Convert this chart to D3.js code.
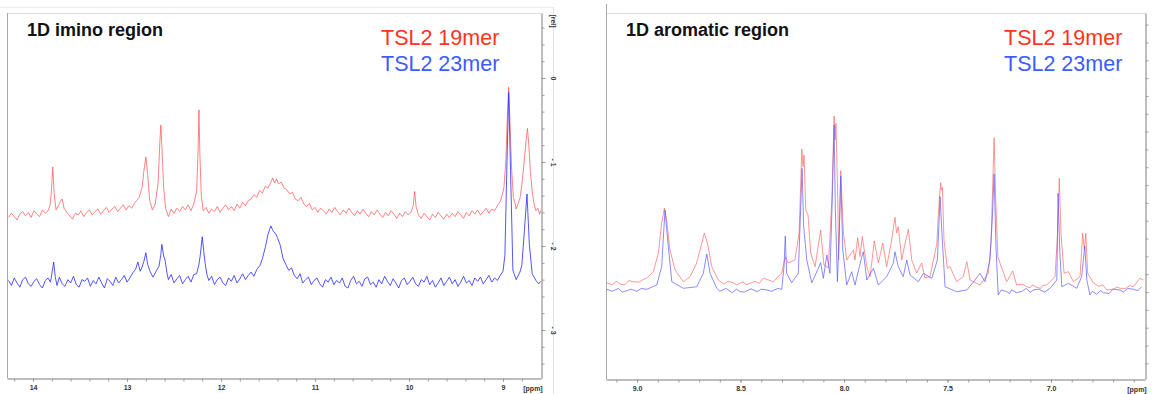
<!DOCTYPE html>
<html>
<head>
<meta charset="utf-8">
<script src="https://cdn.jsdelivr.net/npm/d3@7"></script>
<style>
  body { margin: 0; background: #fff; }
  svg { display: block; font-family: "Liberation Sans", Arial, sans-serif; }
</style>
</head>
<body>
<div id="chart"></div>
<script>
// panel titles and legend
var panelTitles = ["1D imino region", "1D aromatic region"];
var legendNames = ["TSL2 19mer", "TSL2 23mer"];

// imino region: [ppm, rel] pairs
var iminoPpm = [14.277, 8.596];
var iminoRel = [0.774, -3.571];
var iminoXTicks = [14, 13, 12, 11, 10, 9];
var iminoYTicks = [0, -1, -2, -3];

var imino19 = [
  [14.26,-1.66],[14.23,-1.61],[14.20,-1.65],[14.17,-1.69],[14.14,-1.62],[14.11,-1.59],[14.08,-1.64],
  [14.05,-1.60],[14.02,-1.66],[13.99,-1.58],[13.96,-1.62],[13.93,-1.65],[13.90,-1.57],[13.87,-1.61],
  [13.84,-1.58],[13.82,-1.52],[13.805,-1.35],[13.79,-1.06],[13.775,-1.38],[13.755,-1.57],[13.73,-1.52],
  [13.71,-1.47],[13.69,-1.44],[13.67,-1.55],[13.64,-1.60],[13.61,-1.64],[13.58,-1.68],[13.55,-1.61],
  [13.52,-1.63],[13.49,-1.58],[13.46,-1.65],[13.43,-1.60],[13.40,-1.57],[13.37,-1.63],[13.34,-1.59],
  [13.31,-1.56],[13.28,-1.62],[13.25,-1.58],[13.22,-1.54],[13.19,-1.60],[13.16,-1.56],[13.13,-1.53],
  [13.10,-1.59],[13.07,-1.55],[13.04,-1.51],[13.01,-1.57],[12.98,-1.52],[12.95,-1.55],[12.92,-1.49],
  [12.90,-1.46],[12.87,-1.42],[12.84,-1.30],[12.82,-1.10],[12.80,-0.94],[12.78,-1.15],[12.76,-1.45],
  [12.73,-1.57],[12.70,-1.50],[12.67,-1.25],[12.65,-0.75],[12.64,-0.56],[12.63,-0.80],[12.61,-1.30],
  [12.59,-1.55],[12.56,-1.65],[12.53,-1.56],[12.50,-1.61],[12.47,-1.55],[12.44,-1.59],[12.41,-1.53],
  [12.38,-1.57],[12.35,-1.51],[12.32,-1.58],[12.29,-1.50],[12.26,-1.35],[12.245,-0.90],[12.235,-0.38],
  [12.225,-0.90],[12.21,-1.40],[12.19,-1.58],[12.16,-1.54],[12.13,-1.61],[12.10,-1.56],[12.07,-1.59],
  [12.04,-1.53],[12.01,-1.60],[11.98,-1.55],[11.95,-1.51],[11.92,-1.57],[11.89,-1.53],[11.86,-1.58],
  [11.83,-1.50],[11.80,-1.55],[11.77,-1.48],[11.74,-1.52],[11.71,-1.46],[11.68,-1.44],[11.65,-1.39],
  [11.62,-1.42],[11.59,-1.34],[11.56,-1.37],[11.53,-1.29],[11.50,-1.31],[11.47,-1.24],[11.45,-1.19],
  [11.43,-1.25],[11.41,-1.20],[11.39,-1.26],[11.36,-1.24],[11.33,-1.31],[11.30,-1.33],[11.27,-1.38],
  [11.24,-1.36],[11.21,-1.44],[11.18,-1.46],[11.15,-1.42],[11.12,-1.50],[11.09,-1.53],[11.06,-1.49],
  [11.03,-1.57],[11.00,-1.54],[10.97,-1.60],[10.94,-1.55],[10.91,-1.58],[10.88,-1.62],[10.85,-1.56],
  [10.82,-1.60],[10.79,-1.54],[10.76,-1.59],[10.73,-1.63],[10.70,-1.57],[10.67,-1.61],[10.64,-1.55],
  [10.61,-1.60],[10.58,-1.64],[10.55,-1.58],[10.52,-1.62],[10.49,-1.56],[10.46,-1.61],[10.43,-1.65],
  [10.40,-1.59],[10.37,-1.63],[10.34,-1.57],[10.31,-1.62],[10.28,-1.66],[10.25,-1.60],[10.22,-1.64],
  [10.19,-1.58],[10.16,-1.62],[10.13,-1.67],[10.10,-1.61],[10.07,-1.65],[10.04,-1.59],[10.01,-1.63],
  [9.98,-1.60],[9.955,-1.52],[9.94,-1.35],[9.925,-1.53],[9.90,-1.63],[9.87,-1.67],[9.84,-1.61],
  [9.81,-1.65],[9.78,-1.69],[9.75,-1.62],[9.72,-1.66],[9.69,-1.60],[9.66,-1.64],[9.63,-1.68],
  [9.60,-1.62],[9.57,-1.66],[9.54,-1.61],[9.51,-1.65],[9.48,-1.59],[9.45,-1.63],[9.42,-1.67],
  [9.39,-1.60],[9.36,-1.64],[9.33,-1.58],[9.30,-1.62],[9.27,-1.57],[9.24,-1.63],[9.21,-1.59],
  [9.18,-1.55],[9.15,-1.61],[9.12,-1.56],[9.09,-1.58],[9.06,-1.52],[9.03,-1.47],[9.01,-1.40],
  [8.99,-1.30],[8.97,-0.98],[8.955,-0.50],[8.94,-0.11],[8.925,-0.55],[8.91,-1.05],[8.89,-1.42],
  [8.87,-1.50],[8.86,-1.56],[8.84,-1.50],[8.82,-1.43],[8.80,-1.28],[8.78,-1.05],[8.755,-0.75],
  [8.74,-0.60],[8.725,-0.80],[8.71,-1.10],[8.69,-1.35],[8.67,-1.50],[8.65,-1.58],[8.63,-1.55],
  [8.61,-1.62],[8.60,-1.58]
];

var imino23 = [
  [14.26,-2.41],[14.23,-2.47],[14.20,-2.38],[14.17,-2.44],[14.14,-2.49],[14.11,-2.40],[14.08,-2.37],
  [14.05,-2.45],[14.02,-2.48],[13.99,-2.42],[13.96,-2.39],[13.93,-2.46],[13.90,-2.50],[13.87,-2.41],
  [13.84,-2.38],[13.815,-2.43],[13.795,-2.30],[13.78,-2.19],[13.765,-2.36],[13.745,-2.47],[13.72,-2.37],
  [13.69,-2.45],[13.66,-2.48],[13.63,-2.40],[13.60,-2.44],[13.57,-2.36],[13.54,-2.46],[13.51,-2.49],
  [13.48,-2.40],[13.45,-2.42],[13.42,-2.38],[13.39,-2.48],[13.36,-2.41],[13.33,-2.45],[13.30,-2.37],
  [13.27,-2.44],[13.24,-2.50],[13.21,-2.39],[13.18,-2.42],[13.15,-2.47],[13.12,-2.37],[13.09,-2.44],
  [13.06,-2.40],[13.03,-2.35],[13.00,-2.43],[12.97,-2.38],[12.94,-2.32],[12.91,-2.28],[12.885,-2.19],
  [12.86,-2.30],[12.84,-2.25],[12.82,-2.18],[12.80,-2.08],[12.78,-2.22],[12.756,-2.30],[12.724,-2.37],
  [12.69,-2.30],[12.66,-2.24],[12.64,-2.10],[12.63,-1.98],[12.61,-2.12],[12.595,-2.17],[12.575,-2.32],
  [12.56,-2.40],[12.53,-2.34],[12.50,-2.44],[12.47,-2.39],[12.44,-2.35],[12.41,-2.45],[12.38,-2.40],
  [12.35,-2.36],[12.32,-2.43],[12.29,-2.34],[12.26,-2.33],[12.235,-2.22],[12.22,-2.10],[12.20,-1.89],
  [12.185,-2.05],[12.17,-2.20],[12.15,-2.34],[12.13,-2.41],[12.10,-2.36],[12.07,-2.46],[12.04,-2.40],
  [12.01,-2.37],[11.98,-2.44],[11.95,-2.47],[11.92,-2.38],[11.89,-2.42],[11.86,-2.35],[11.83,-2.44],
  [11.80,-2.39],[11.77,-2.33],[11.74,-2.40],[11.71,-2.35],[11.68,-2.31],[11.65,-2.36],[11.62,-2.28],
  [11.585,-2.23],[11.56,-2.15],[11.53,-2.02],[11.50,-1.86],[11.47,-1.76],[11.455,-1.80],[11.44,-1.83],
  [11.42,-1.85],[11.40,-1.90],[11.37,-1.99],[11.34,-2.15],[11.31,-2.22],[11.28,-2.29],[11.25,-2.26],
  [11.22,-2.35],[11.19,-2.39],[11.16,-2.33],[11.13,-2.44],[11.10,-2.40],[11.07,-2.37],[11.04,-2.46],
  [11.01,-2.41],[10.98,-2.38],[10.95,-2.45],[10.92,-2.49],[10.89,-2.40],[10.86,-2.43],[10.83,-2.37],
  [10.80,-2.46],[10.77,-2.41],[10.74,-2.44],[10.71,-2.38],[10.68,-2.48],[10.65,-2.50],[10.62,-2.41],
  [10.59,-2.36],[10.56,-2.45],[10.53,-2.42],[10.50,-2.48],[10.47,-2.39],[10.44,-2.37],[10.41,-2.46],
  [10.38,-2.43],[10.35,-2.49],[10.32,-2.40],[10.29,-2.45],[10.26,-2.36],[10.23,-2.42],[10.20,-2.47],
  [10.17,-2.39],[10.14,-2.44],[10.11,-2.50],[10.08,-2.41],[10.05,-2.38],[10.02,-2.46],[9.99,-2.42],
  [9.96,-2.37],[9.93,-2.45],[9.90,-2.48],[9.87,-2.40],[9.84,-2.43],[9.81,-2.36],[9.78,-2.46],
  [9.75,-2.41],[9.72,-2.49],[9.69,-2.44],[9.66,-2.38],[9.63,-2.47],[9.60,-2.42],[9.57,-2.37],
  [9.54,-2.45],[9.51,-2.40],[9.48,-2.48],[9.45,-2.43],[9.42,-2.36],[9.39,-2.44],[9.36,-2.41],
  [9.33,-2.47],[9.30,-2.38],[9.27,-2.42],[9.24,-2.37],[9.21,-2.45],[9.18,-2.40],[9.15,-2.35],
  [9.12,-2.43],[9.09,-2.38],[9.06,-2.41],[9.03,-2.35],[9.00,-2.30],[8.98,-2.11],[8.96,-1.10],
  [8.94,-0.17],[8.92,-1.10],[8.895,-2.29],[8.86,-2.40],[8.82,-2.31],[8.80,-2.23],[8.78,-1.93],
  [8.745,-1.38],[8.72,-1.98],[8.69,-2.33],[8.65,-2.41],[8.62,-2.45],[8.60,-2.42]
];

// aromatic region
var aromPpm = [9.15, 6.546];
var aromRel = [3.913, -1.22];
var aromXTicks = [9.0, 8.5, 8.0, 7.5, 7.0];

var arom19 = [
  [9.146,0.130],[9.12,0.100],[9.10,0.150],[9.082,0.112],[9.06,0.098],[9.04,0.160],[9.018,0.144],
  [8.99,0.140],[8.97,0.175],[8.953,0.196],[8.921,0.285],[8.897,0.547],[8.881,0.968],[8.868,1.178],
  [8.857,1.010],[8.841,0.589],[8.816,0.309],[8.776,0.144],[8.744,0.215],[8.712,0.407],[8.687,0.687],
  [8.675,0.827],[8.660,0.687],[8.639,0.355],[8.607,0.168],[8.58,0.110],[8.56,0.150],[8.535,0.130],
  [8.52,0.100],[8.49,0.140],[8.47,0.105],[8.454,0.122],[8.43,0.150],[8.41,0.120],[8.390,0.196],
  [8.342,0.144],[8.301,0.266],[8.284,0.495],[8.269,0.407],[8.237,0.449],[8.217,0.827],[8.204,2.006],
  [8.198,1.757],[8.193,1.921],[8.185,1.150],[8.174,1.080],[8.161,0.547],[8.140,0.355],[8.113,0.870],
  [8.097,0.379],[8.076,0.337],[8.059,1.290],[8.048,2.468],[8.043,2.132],[8.039,2.366],[8.030,1.290],
  [8.026,0.449],[8.016,1.701],[8.003,0.827],[7.987,0.449],[7.971,0.519],[7.955,0.589],[7.947,0.449],
  [7.934,0.762],[7.923,0.495],[7.912,0.776],[7.890,0.355],[7.874,0.215],[7.854,0.715],[7.834,0.407],
  [7.813,0.687],[7.794,0.355],[7.770,0.729],[7.754,1.048],[7.746,0.827],[7.738,0.916],[7.721,0.449],
  [7.705,0.687],[7.689,0.879],[7.673,0.449],[7.649,0.266],[7.625,0.407],[7.609,0.196],[7.585,0.215],
  [7.552,0.669],[7.540,1.290],[7.533,1.533],[7.530,1.431],[7.525,1.468],[7.517,0.729],[7.501,0.332],
  [7.488,0.355],[7.456,0.144],[7.424,0.215],[7.407,0.425],[7.391,0.168],[7.343,0.098],[7.303,0.262],
  [7.290,0.687],[7.275,2.164],[7.267,1.290],[7.257,0.495],[7.246,0.403],[7.214,0.144],[7.185,0.295],
  [7.166,0.098],[7.14,0.110],[7.117,0.074],[7.10,0.060],[7.09,0.100],[7.069,0.066],[7.05,0.050],
  [7.04,0.090],[7.021,0.098],[6.981,0.215],[6.968,0.827],[6.960,1.595],[6.952,0.827],[6.937,0.262],
  [6.916,0.285],[6.892,0.144],[6.860,0.215],[6.847,0.823],[6.839,0.589],[6.832,0.823],[6.823,0.262],
  [6.796,0.130],[6.77,0.080],[6.75,0.100],[6.731,0.028],[6.70,0.040],[6.68,0.070],[6.667,0.052],
  [6.64,0.050],[6.62,0.090],[6.602,0.074],[6.570,0.192],[6.554,0.168]
];

var arom23 = [
  [9.146,0.038],[9.12,0.010],[9.09,0.050],[9.07,0.000],[9.050,0.018],[9.03,0.040],[9.00,0.010],
  [8.98,0.050],[8.953,0.038],[8.905,0.098],[8.881,0.355],[8.865,1.150],[8.852,0.729],[8.832,0.144],
  [8.776,0.052],[8.712,0.074],[8.680,0.262],[8.663,0.533],[8.647,0.262],[8.615,0.052],[8.60,0.010],
  [8.57,0.050],[8.54,-0.010],[8.52,0.040],[8.502,0.004],[8.48,0.000],[8.45,0.045],[8.42,0.005],
  [8.40,0.040],[8.373,0.028],[8.35,0.010],[8.32,0.050],[8.301,0.038],[8.290,0.355],[8.284,0.785],
  [8.277,0.262],[8.253,0.130],[8.221,0.262],[8.208,1.290],[8.203,1.735],[8.195,0.916],[8.180,0.449],
  [8.156,0.130],[8.135,0.262],[8.113,0.411],[8.100,0.192],[8.083,0.519],[8.068,0.262],[8.057,1.290],
  [8.048,2.342],[8.042,1.150],[8.032,0.144],[8.023,0.823],[8.016,1.627],[8.006,0.589],[7.987,0.098],
  [7.963,0.285],[7.947,0.098],[7.926,0.355],[7.907,0.565],[7.890,0.168],[7.858,0.332],[7.834,0.098],
  [7.794,0.215],[7.762,0.403],[7.754,0.565],[7.738,0.355],[7.714,0.215],[7.697,0.449],[7.681,0.238],
  [7.641,0.144],[7.617,0.262],[7.576,0.192],[7.549,0.449],[7.536,1.337],[7.527,0.823],[7.512,0.074],
  [7.456,0.004],[7.407,0.028],[7.367,0.168],[7.343,0.262],[7.319,0.144],[7.295,0.449],[7.284,1.010],
  [7.275,1.655],[7.266,0.635],[7.255,-0.042],[7.24,0.030],[7.214,0.004],[7.20,-0.020],[7.19,0.030],
  [7.166,-0.010],[7.14,0.010],[7.12,0.050],[7.10,-0.005],[7.086,0.028],[7.06,0.040],[7.03,0.000],
  [7.005,0.052],[6.972,0.168],[6.966,1.384],[6.958,0.589],[6.948,0.074],[6.916,0.122],[6.876,0.052],
  [6.852,0.215],[6.837,0.645],[6.827,0.168],[6.812,-0.042],[6.80,0.010],[6.78,-0.030],[6.76,0.020],
  [6.747,-0.010],[6.72,-0.020],[6.70,0.040],[6.667,0.028],[6.65,0.000],[6.63,0.050],[6.602,0.038],
  [6.58,0.020],[6.562,0.074]
];

var redText = "#ff3320", blueText = "#3d5cff";

var svg = d3.select("#chart").append("svg")
  .attr("width", 1152)
  .attr("height", 394);

// faint screenshot edges around the left panel
svg.append("line").attr("x1", 0).attr("x2", 553).attr("y1", 7.5).attr("y2", 7.5).attr("stroke", "#ececec");
svg.append("line").attr("x1", 553.5).attr("x2", 553.5).attr("y1", 7).attr("y2", 394).attr("stroke", "#e4e4e4");

function drawPanel(p) {
  var x = d3.scaleLinear().domain(p.ppm).range([p.left, p.right]);
  var y = d3.scaleLinear().domain(p.rel).range([p.top, p.bottom]);
  var g = svg.append("g");

  g.append("clipPath").attr("id", "clip" + p.id)
    .append("rect")
    .attr("x", p.left).attr("y", p.top)
    .attr("width", p.right - p.left).attr("height", p.bottom - p.top);

  // frame
  g.append("line").attr("x1", p.left).attr("x2", p.right).attr("y1", p.top + 0.5).attr("y2", p.top + 0.5)
    .attr("stroke", "#dedede");
  g.append("line").attr("x1", p.left + 0.5).attr("x2", p.left + 0.5).attr("y1", p.frameTop).attr("y2", p.bottom)
    .attr("stroke", "#a8a8a8");

  // x axis: minor then major ticks
  g.append("g")
    .attr("transform", "translate(0," + (p.bottom + 0.5) + ")")
    .call(d3.axisBottom(x).tickValues(p.minorX).tickSize(3).tickSizeOuter(0).tickFormat(""))
    .classed("axis", true);
  g.append("g")
    .attr("transform", "translate(0," + (p.bottom + 0.5) + ")")
    .call(d3.axisBottom(x).tickValues(p.xTicks).tickSize(3).tickSizeOuter(0).tickPadding(4).tickFormat(p.fmt))
    .classed("axis", true);
  g.append("text")
    .attr("x", p.right - 8).attr("y", p.bottom + 13)
    .attr("text-anchor", "middle")
    .attr("class", "ticklabel")
    .text("[ppm]");

  // y axis on the right side
  g.append("g")
    .attr("transform", "translate(" + (p.right + 0.5) + ",0)")
    .call(d3.axisRight(y).tickValues(p.minorY).tickSize(3).tickSizeOuter(0).tickFormat(""))
    .classed("axis", true);
  var yAxis = g.append("g")
    .attr("transform", "translate(" + (p.right + 0.5) + ",0)")
    .call(d3.axisRight(y).tickValues(p.yTicks).tickSize(4).tickSizeOuter(0).tickPadding(6)
      .tickFormat(function(d) { return d === 0 ? "0" : "- " + Math.abs(d); }))
    .classed("axis", true);
  yAxis.selectAll("text")
    .attr("transform", function() {
      return "rotate(90," + d3.select(this).attr("x") + ",0)";
    })
    .attr("dy", "0.1em")
    .attr("text-anchor", "middle");
  if (p.yTicks.length) {
    g.append("text")
      .attr("transform", "translate(" + (p.right + 10) + "," + (p.top + 8) + ") rotate(90)")
      .attr("text-anchor", "middle")
      .attr("class", "ticklabel")
      .text("[rel]");
  }

  // spectra
  var line = d3.line()
    .x(function(d) { return x(d[0]); })
    .y(function(d) { return y(d[1]); });
  p.series.forEach(function(s) {
    var pts = s.data.slice().sort(function(a, b) { return b[0] - a[0]; });
    g.append("path")
      .datum(pts)
      .attr("clip-path", "url(#clip" + p.id + ")")
      .attr("fill", "none")
      .attr("stroke", s.color)
      .attr("stroke-opacity", s.opacity)
      .attr("stroke-width", 1)
      .attr("stroke-linejoin", "round")
      .attr("d", line);
  });

  // title and legend
  g.append("text")
    .attr("x", p.left + 20).attr("y", p.top + 23)
    .attr("font-size", 18).attr("font-weight", "bold").attr("fill", "#111")
    .text(p.title);
  g.append("text")
    .attr("x", p.legendX).attr("y", p.top + 32)
    .attr("font-size", 21.5).attr("fill", redText)
    .text(legendNames[0]);
  g.append("text")
    .attr("x", p.legendX).attr("y", p.top + 58)
    .attr("font-size", 21.5).attr("fill", blueText)
    .text(legendNames[1]);

  svg.selectAll(".axis path").attr("stroke", "#a8a8a8");
  svg.selectAll(".axis line").attr("stroke", "#999");
  svg.selectAll(".axis text, .ticklabel")
    .attr("font-size", 7).attr("font-weight", "bold").attr("fill", "#333");
}

drawPanel({
  id: "imino",
  left: 7, right: 541, top: 13, bottom: 378, frameTop: 13,
  ppm: iminoPpm, rel: iminoRel,
  xTicks: iminoXTicks,
  minorX: d3.range(71, 43, -1).map(function(i) { return i / 5; }),
  fmt: d3.format("d"),
  yTicks: iminoYTicks,
  minorY: d3.range(3, -18, -1).map(function(i) { return i / 5; }),
  title: panelTitles[0],
  legendX: 381,
  series: [
    { data: imino19, color: "#ff5a5a", opacity: 0.75 },
    { data: imino23, color: "#2a2aff", opacity: 0.8 }
  ]
});

drawPanel({
  id: "arom",
  left: 606, right: 1145, top: 13, bottom: 379, frameTop: 4,
  ppm: aromPpm, rel: aromRel,
  xTicks: aromXTicks,
  minorX: d3.range(91, 65, -1).map(function(i) { return i / 10; }),
  fmt: d3.format(".1f"),
  yTicks: [],
  minorY: d3.range(15, -5, -1).map(function(i) { return i / 4; }),
  title: panelTitles[1],
  legendX: 1004,
  series: [
    { data: arom19, color: "#ff6a6a", opacity: 0.7 },
    { data: arom23, color: "#5a5aff", opacity: 0.7 }
  ]
});
</script>
</body>
</html>
